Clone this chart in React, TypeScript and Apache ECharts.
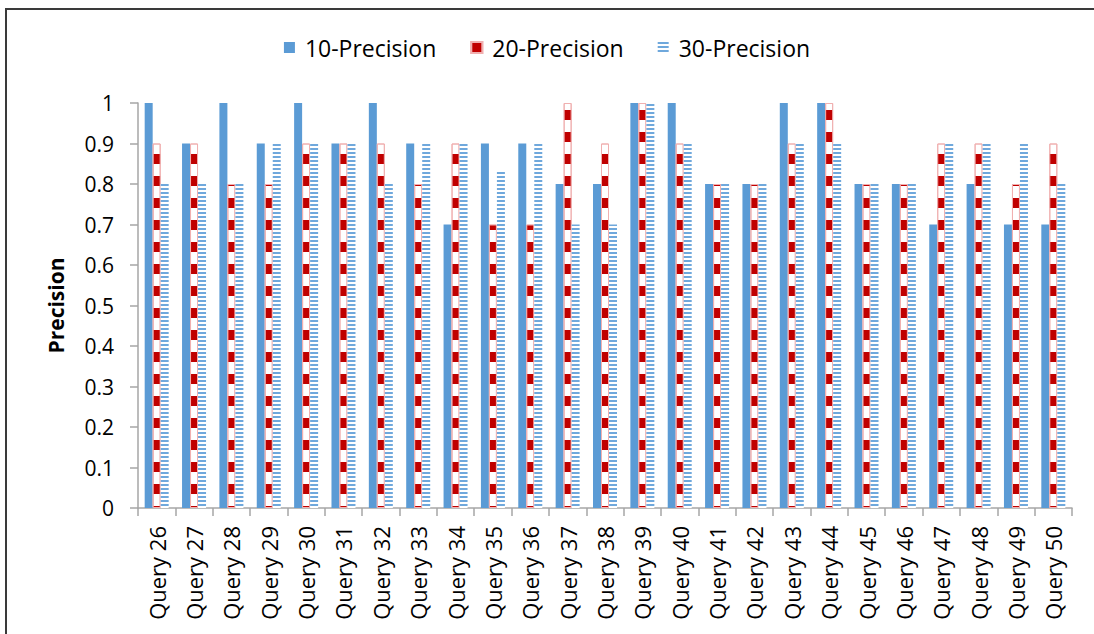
import React, { useEffect, useRef } from "react";
import * as echarts from "echarts";

const categories = [
  "Query 26", "Query 27", "Query 28", "Query 29", "Query 30", "Query 31", "Query 32",
  "Query 33", "Query 34", "Query 35", "Query 36", "Query 37", "Query 38", "Query 39",
  "Query 40", "Query 41", "Query 42", "Query 43", "Query 44", "Query 45", "Query 46",
  "Query 47", "Query 48", "Query 49", "Query 50",
];
const precision10 = [1, 0.9, 1, 0.9, 1, 0.9, 1, 0.9, 0.7, 0.9, 0.9, 0.8, 0.8, 1, 1, 0.8, 0.8, 1, 1, 0.8, 0.8, 0.7, 0.8, 0.7, 0.7];
const precision20 = [0.9, 0.9, 0.8, 0.8, 0.9, 0.9, 0.9, 0.8, 0.9, 0.7, 0.7, 1, 0.9, 1, 0.9, 0.8, 0.8, 0.9, 1, 0.8, 0.8, 0.9, 0.9, 0.8, 0.9];
const precision30 = [0.8, 0.8, 0.8, 0.9, 0.9, 0.9, 0.8, 0.9, 0.9, 0.83, 0.9, 0.7, 0.7, 1, 0.9, 0.8, 0.8, 0.9, 0.9, 0.8, 0.8, 0.9, 0.9, 0.9, 0.8];
const seriesNames = ["10-Precision", "20-Precision", "30-Precision"];

const FONT = "'Open Sans', Lato, sans-serif";

export default function App() {
  const ref = useRef<HTMLDivElement>(null);
  useEffect(() => {
    document.body.style.margin = "0";
    const chart = echarts.init(ref.current!, null, { renderer: "svg" });
    chart.setOption({
      animation: false,
      backgroundColor: "#ffffff",
      textStyle: { fontFamily: FONT, color: "#000" },
      graphic: [
        {
          type: "rect",
          shape: { x: 6, y: 9, width: 1200, height: 800 },
          style: { fill: "none", stroke: "#3a3a3a", lineWidth: 2 },
          silent: true,
          z: 100,
        },
      ],
      legend: {
        top: 31,
        left: "center",
        icon: "rect",
        itemWidth: 11,
        itemHeight: 11,
        itemGap: 34,
        textStyle: { fontSize: 23, fontFamily: FONT, color: "#000", padding: [0, 0, 0, 5] },
        data: seriesNames,
      },
      grid: { left: 138, right: 22, top: 103, bottom: 126, containLabel: false },
      xAxis: {
        type: "category",
        data: categories,
        boundaryGap: true,
        axisLine: { lineStyle: { color: "#a6a6a6", width: 1.5 } },
        axisTick: { show: true, length: 8, lineStyle: { color: "#a6a6a6", width: 1.5 } },
        axisLabel: { rotate: 90, fontSize: 22, fontFamily: FONT, color: "#000", margin: 18, interval: 0 },
      },
      yAxis: {
        type: "value",
        min: 0,
        max: 1,
        interval: 0.1,
        name: "Precision",
        nameLocation: "middle",
        nameRotate: 90,
        nameGap: 72,
        nameTextStyle: { fontSize: 21, fontWeight: "bold", fontFamily: FONT, color: "#000" },
        axisLine: { show: true, lineStyle: { color: "#a6a6a6", width: 1.5 } },
        axisTick: { show: true, length: 8, lineStyle: { color: "#a6a6a6", width: 1.5 } },
        splitLine: { show: false },
        axisLabel: {
          fontSize: 21,
          fontFamily: FONT,
          color: "#000",
          margin: 24,
          formatter: (v: number) => String(+v.toFixed(1)),
        },
      },
      series: [
        {
          name: seriesNames[0],
          type: "bar",
          data: precision10,
          barWidth: 8,
          barGap: "0%",
          itemStyle: { color: "#5b9bd5" },
        },
        {
          name: seriesNames[1],
          type: "bar",
          data: precision20,
          barWidth: 8,
          barGap: "0%",
          itemStyle: {
            color: "#ffffff",
            borderColor: "#f0b0b0",
            borderWidth: 1,
            decal: {
              symbol: "rect",
              symbolSize: 1,
              symbolKeepAspect: false,
              color: "#c00000",
              dashArrayX: [1, 0],
              dashArrayY: [10, 11.5],
            },
          },
        },
        {
          name: seriesNames[2],
          type: "bar",
          data: precision30,
          barWidth: 8,
          barGap: "0%",
          itemStyle: {
            color: "#ffffff",
            decal: {
              symbol: "rect",
              symbolSize: 1,
              symbolKeepAspect: false,
              color: "#6fa8dc",
              dashArrayX: [1, 0],
              dashArrayY: [2, 1.7],
            },
          },
        },
      ],
    });
    return () => chart.dispose();
  }, []);
  return <div ref={ref} style={{ width: 1094, height: 634 }} />;
}
